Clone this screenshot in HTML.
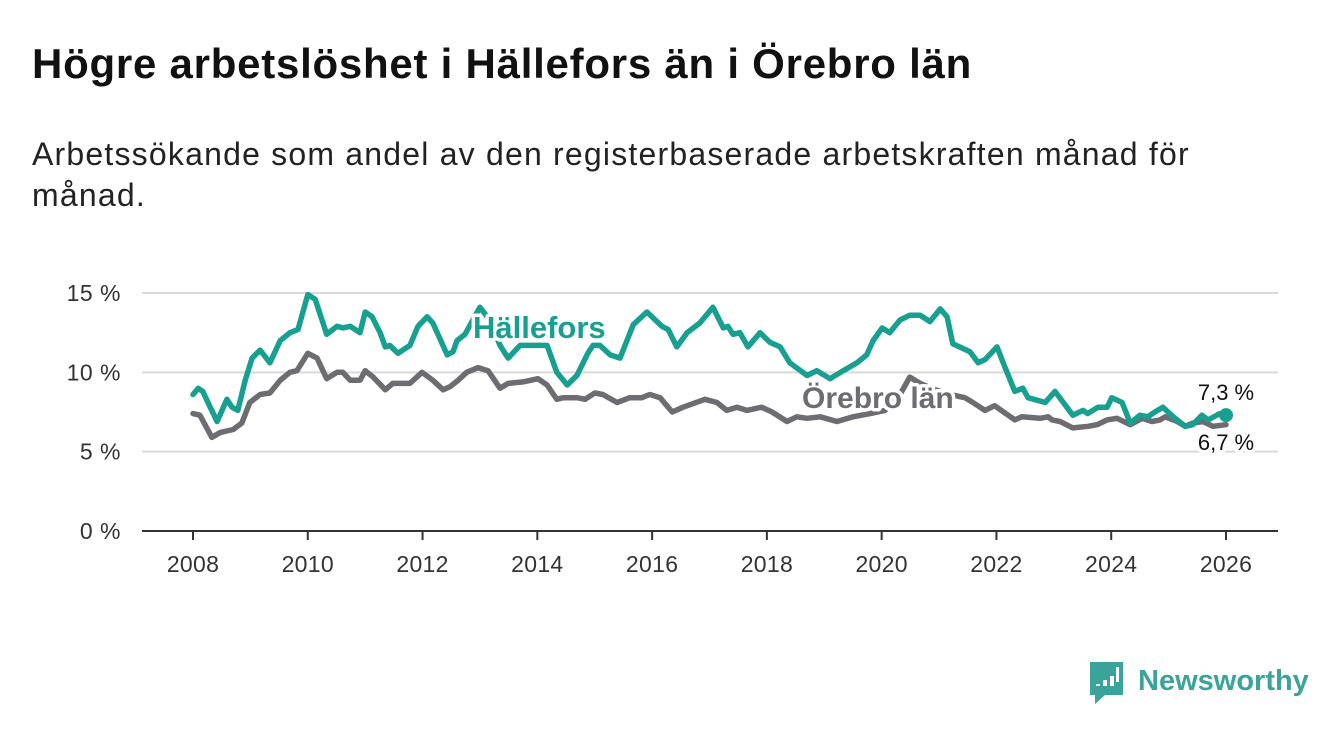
<!DOCTYPE html>
<html><head><meta charset="utf-8"><style>
body{margin:0;background:#fff;width:1340px;height:734px;overflow:hidden;font-family:"Liberation Sans","DejaVu Sans",sans-serif}
#title{position:absolute;left:32px;top:40px;font-size:42px;font-weight:bold;color:#111;margin:0;letter-spacing:0.75px}
#sub{position:absolute;left:32px;top:134px;font-size:32px;color:#222;line-height:41px;width:1220px;letter-spacing:1.2px}
svg{position:absolute;left:0;top:0}
</style></head><body>
<h1 id="title">Högre arbetslöshet i Hällefors än i Örebro län</h1>
<div id="sub">Arbetssökande som andel av den registerbaserade arbetskraften månad för månad.</div>
<svg id="chart" width="1340" height="734"></svg>
<script>
const hYears=[2008.0,2008.09,2008.17,2008.3,2008.42,2008.59,2008.68,2008.78,2008.91,2009.03,2009.17,2009.34,2009.52,2009.69,2009.83,2010.0,2010.13,2010.33,2010.51,2010.61,2010.74,2010.91,2011.0,2011.12,2011.26,2011.35,2011.43,2011.57,2011.78,2011.92,2012.08,2012.18,2012.43,2012.53,2012.6,2012.74,2013.0,2013.17,2013.35,2013.49,2013.7,2014.17,2014.34,2014.52,2014.69,2014.88,2014.97,2015.09,2015.27,2015.44,2015.67,2015.91,2016.17,2016.28,2016.43,2016.61,2016.83,2017.06,2017.24,2017.32,2017.41,2017.53,2017.67,2017.88,2018.05,2018.23,2018.4,2018.7,2018.87,2019.1,2019.33,2019.57,2019.74,2019.85,2020.01,2020.14,2020.32,2020.49,2020.67,2020.84,2021.02,2021.14,2021.24,2021.54,2021.68,2021.8,2022.01,2022.15,2022.32,2022.46,2022.55,2022.85,2023.02,2023.33,2023.51,2023.59,2023.77,2023.93,2024.01,2024.19,2024.33,2024.5,2024.64,2024.76,2024.9,2025.08,2025.29,2025.42,2025.58,2025.69,2025.89,2026.0];
const hValues=[8.6,9.0,8.8,7.8,6.9,8.3,7.8,7.6,9.5,10.9,11.4,10.6,12.0,12.5,12.7,14.9,14.6,12.4,12.9,12.8,12.9,12.5,13.8,13.5,12.5,11.6,11.7,11.2,11.7,12.9,13.5,13.1,11.1,11.3,12.0,12.4,14.1,13.3,11.7,10.9,11.7,11.7,10.0,9.2,9.8,11.2,11.7,11.7,11.1,10.9,13.0,13.8,12.9,12.7,11.6,12.5,13.1,14.1,12.8,12.9,12.4,12.5,11.6,12.5,11.9,11.6,10.6,9.8,10.1,9.6,10.1,10.6,11.1,12.0,12.8,12.5,13.3,13.6,13.6,13.2,14.0,13.5,11.8,11.3,10.6,10.8,11.6,10.3,8.8,9.0,8.4,8.1,8.8,7.3,7.6,7.4,7.8,7.8,8.4,8.1,6.8,7.3,7.2,7.5,7.8,7.2,6.6,6.7,7.3,7.0,7.4,7.3];
const oYears=[2008.0,2008.12,2008.33,2008.47,2008.7,2008.85,2008.99,2009.17,2009.34,2009.52,2009.69,2009.81,2010.0,2010.16,2010.33,2010.51,2010.61,2010.74,2010.91,2011.0,2011.14,2011.35,2011.48,2011.78,2011.99,2012.18,2012.36,2012.48,2012.62,2012.77,2012.97,2013.14,2013.35,2013.49,2013.75,2014.01,2014.17,2014.34,2014.45,2014.69,2014.83,2015.0,2015.14,2015.39,2015.61,2015.82,2015.96,2016.14,2016.35,2016.54,2016.92,2017.13,2017.3,2017.48,2017.65,2017.91,2018.09,2018.35,2018.52,2018.7,2018.93,2019.22,2019.5,2019.8,2020.06,2020.32,2020.49,2020.67,2020.93,2021.19,2021.45,2021.59,2021.8,2021.97,2022.32,2022.44,2022.76,2022.9,2022.97,2023.11,2023.33,2023.6,2023.75,2023.93,2024.1,2024.33,2024.54,2024.71,2024.85,2024.94,2025.15,2025.29,2025.42,2025.6,2025.77,2026.0];
const oValues=[7.4,7.3,5.9,6.2,6.4,6.8,8.1,8.6,8.7,9.5,10.0,10.1,11.2,10.9,9.6,10.0,10.0,9.5,9.5,10.1,9.7,8.9,9.3,9.3,10.0,9.5,8.9,9.1,9.5,10.0,10.3,10.1,9.0,9.3,9.4,9.6,9.2,8.3,8.4,8.4,8.3,8.7,8.6,8.1,8.4,8.4,8.6,8.4,7.5,7.8,8.3,8.1,7.6,7.8,7.6,7.8,7.5,6.9,7.2,7.1,7.2,6.9,7.2,7.4,7.6,8.6,9.7,9.3,8.9,8.6,8.4,8.1,7.6,7.9,7.0,7.2,7.1,7.2,7.0,6.9,6.5,6.6,6.7,7.0,7.1,6.7,7.1,6.9,7.0,7.2,6.9,6.6,6.8,6.9,6.6,6.7];
const yTicks=[0,5,10,15];
const yTickLabels=["0 %","5 %","10 %","15 %"];
const xTicks=[2008,2010,2012,2014,2016,2018,2020,2022,2024,2026];

const NS="http://www.w3.org/2000/svg";
const svg=document.getElementById('chart');
const X=y=>193+(y-2008)*(1226-193)/18;
const Y=v=>531-v*(531-293)/15;
function mk(t,a,p){const e=document.createElementNS(NS,t);for(const k in a)e.setAttribute(k,a[k]);(p||svg).appendChild(e);return e;}
yTicks.forEach((t,i)=>{
  if(t>0){const g=mk('line',{x1:142,x2:1278,y1:Y(t),y2:Y(t),stroke:'#d9d9d9','stroke-width':2});
  
  }
  const l=mk('text',{x:121,y:Y(t)+8,'text-anchor':'end','font-size':23,fill:'#333','letter-spacing':0.5});l.textContent=yTickLabels[i];
  
  
});
const ax=mk('line',{x1:142,x2:1278,y1:Y(0),y2:Y(0),stroke:'#333','stroke-width':2});


xTicks.forEach(t=>{
  const tk=mk('line',{x1:X(t),x2:X(t),y1:Y(0),y2:Y(0)+9,stroke:'#333','stroke-width':2});
  
  
  const l=mk('text',{x:X(t),y:572,'text-anchor':'middle','font-size':23,fill:'#333','letter-spacing':0.3});l.textContent=t;
  
  
});
function line(xs,vs,c,name){
  const d=xs.map((x,i)=>(i?'L':'M')+X(x).toFixed(1)+','+Y(vs[i]).toFixed(1)).join('');
  const p=mk('path',{d:d,fill:'none',stroke:c,'stroke-width':5.5,'stroke-linejoin':'round','stroke-linecap':'round'});
  
  
}
line(oYears,oValues,'#6e6c71','orebro-line');
line(hYears,hValues,'#17a08f','hallefors-line');
function lab(txt,x,y,size,fill,w,name,anchor){
  const t=mk('text',{x:x,y:y,'font-size':size,'font-weight':w,fill:fill,stroke:'#fff','stroke-width':7,'paint-order':'stroke','stroke-linejoin':'round','text-anchor':anchor||'start'});
  t.textContent=txt;
  
  
}
lab('Hällefors',473,338,31,'#17a08f','bold','hallefors-label');
lab('Örebro län',802,408,30,'#6e6c71','bold','orebro-label');
const dot=mk('circle',{cx:X(hYears[hYears.length-1]),cy:Y(hValues[hValues.length-1]),r:7,fill:'#17a08f'});


lab(hValues[hValues.length-1].toFixed(1).replace('.',',')+' %',1226,400,22,'#111','normal','hallefors-end-value','middle');
lab(oValues[oValues.length-1].toFixed(1).replace('.',',')+' %',1226,450,22,'#111','normal','orebro-end-value','middle');
// logo
const lg=mk('g',{});


mk('path',{d:'M1090,662 h33 v33 h-18 l-10,9 v-9 h-5 z',fill:'#3aa39a'},lg);
[[1096,684,5],[1103,680,9],[1110,676,13]].forEach(b=>mk('rect',{x:b[0],y:b[1],width:4,height:b[2]-3,fill:'#fff'},lg));
mk('rect',{x:1116,y:667,width:3,height:15,fill:'#fff'},lg);
const lt=mk('text',{x:1138,y:690,'font-size':29,fill:'#3aa39a','font-weight':'bold'},lg);lt.textContent='Newsworthy';
</script>
</body></html>
